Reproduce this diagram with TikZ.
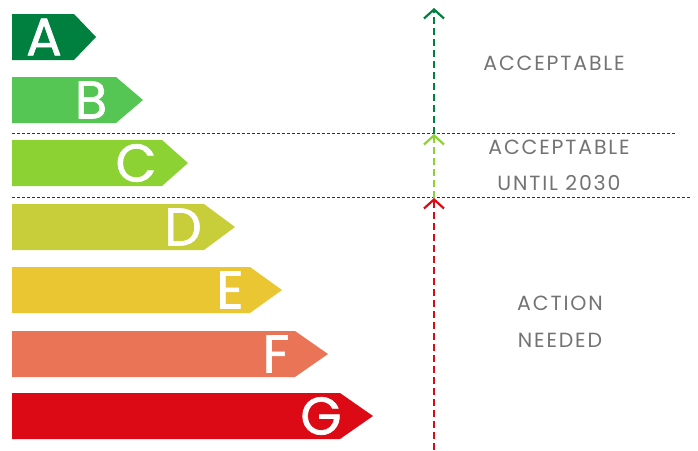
\documentclass[tikz,border=0pt]{standalone}
\usepackage{fontspec}
\setmainfont{Poppins}
\usetikzlibrary{arrows.meta,calc}

\definecolor{gradeA}{HTML}{00803E}
\definecolor{gradeB}{HTML}{55C553}
\definecolor{gradeC}{HTML}{8CD232}
\definecolor{gradeD}{HTML}{C8CD3A}
\definecolor{gradeE}{HTML}{E9C632}
\definecolor{gradeF}{HTML}{EA7456}
\definecolor{gradeG}{HTML}{DC0A14}
\definecolor{labelgray}{HTML}{737373}

\begin{document}
\begin{tikzpicture}[x=1pt,y=-1pt,
  bandtext/.style={text=labelgray,
    font=\fontsize{20.5}{24}\selectfont\addfontfeature{LetterSpace=9}},
  gradetext/.style={text=white,
    font=\fontsize{53}{60}\selectfont\addfontfeature{FakeBold=1.2}},
  divider/.style={draw=black!80,line width=0.8pt,dash pattern=on 3pt off 2pt},
  bandarrow/.style={line width=2.4pt,dash pattern=on 7pt off 4pt,
    -{Straight Barb[length=9pt,width=20pt,line width=2.2pt]}}]
\useasboundingbox (0,0) rectangle (698,450);

% the seven grade arrows
\foreach \g/\c/\top/\body/\tip in {A/gradeA/14/74/96, B/gradeB/77/116/143,
    C/gradeC/140/162/188, D/gradeD/204/204/235, E/gradeE/267/250/282,
    F/gradeF/331/295/328, G/gradeG/393/340/373} {
  \fill[\c] (12,\top) -- (\body,\top) -- (\tip,\top+23) -- (\body,\top+46)
    -- (12,\top+46) -- cycle;
  \node[gradetext] (grade\g) at (\tip-52,\top+23) {\g};
}

% dividers
\coordinate (div1w) at (12,133);
\coordinate (div1e) at (675,133);
\coordinate (div2w) at (12,197);
\coordinate (div2e) at (690,197);
\draw[divider] (div1w) -- (div1e);
\draw[divider] (div2w) -- (div2e);

% vertical arrows
\coordinate (top) at (434,8);
\coordinate (mid1) at (434,134);
\coordinate (mid2) at (434,198);
\coordinate (bottom) at (434,450);
\draw[bandarrow,gradeA] (mid1) -- (top);
\draw[bandarrow,gradeC] (mid2) -- (mid1);
\draw[bandarrow,gradeG] (bottom) -- (mid2);

% band labels
\node[bandtext] (ok) at (554,63) {ACCEPTABLE};
\node[bandtext] (ok2030a) at (559,147) {ACCEPTABLE};
\node[bandtext] (ok2030b) at (559,183) {UNTIL 2030};
\node[bandtext] (acta) at (560,303) {ACTION};
\node[bandtext] (actb) at (560,340) {NEEDED};
\end{tikzpicture}
\end{document}
